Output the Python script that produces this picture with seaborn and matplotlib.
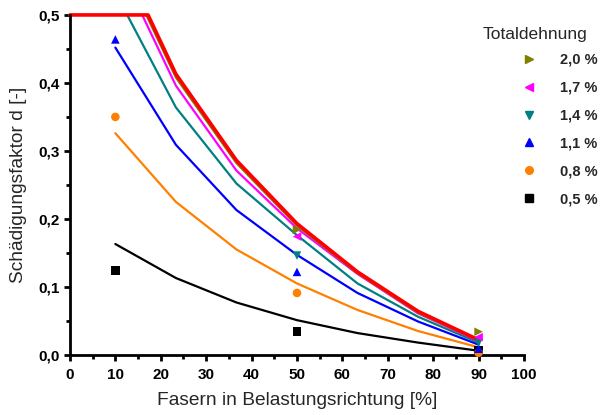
import numpy as np
import pandas as pd
import matplotlib
matplotlib.use("Agg")
import matplotlib.pyplot as plt
from matplotlib.lines import Line2D
from matplotlib.ticker import MultipleLocator, FuncFormatter
import seaborn as sns

# --- data -------------------------------------------------------------
strains = ["0,5 %", "0,8 %", "1,1 %", "1,4 %", "1,7 %", "2,0 %"]
colors = ["#000000", "#ff8000", "#0000ff", "#008080", "#ff00ff", "#808000"]
markers = ["s", "o", "^", "v", "<", ">"]

# model curves (fibre fraction in load direction vs. damage factor)
model_x = [10, 23.33, 36.67, 50, 63.33, 76.67, 90]
model_05 = [0.163, 0.113, 0.077, 0.051, 0.032, 0.018, 0.006]
model_08 = [0.326, 0.225, 0.155, 0.105, 0.066, 0.035, 0.011]
model_11 = [0.452, 0.309, 0.213, 0.147, 0.091, 0.049, 0.015]
model_14 = [0.533, 0.364, 0.252, 0.176, 0.105, 0.056, 0.018]
model_17 = [0.583, 0.396, 0.271, 0.186, 0.119, 0.061, 0.020]
model_20 = [0.596, 0.408, 0.282, 0.190, 0.120, 0.062, 0.021]

# upper envelope, limited to d = 0.5
limit_x = [0, 17.2, 23.33, 36.67, 50, 63.33, 76.67, 90]
limit_d = [0.5, 0.5, 0.413, 0.286, 0.193, 0.122, 0.064, 0.022]

# measurements
meas_x = [10, 50, 90]
meas_05 = [0.124, 0.034, 0.007]
meas_08 = [0.350, 0.091, 0.003]
meas_11 = [0.464, 0.122, 0.009]
meas_14 = [np.nan, 0.146, 0.018]
meas_17 = [np.nan, 0.174, 0.026]
meas_20 = [np.nan, 0.184, 0.034]

model = [model_05, model_08, model_11, model_14, model_17, model_20]
meas = [meas_05, meas_08, meas_11, meas_14, meas_17, meas_20]

lines_df = pd.concat(
    [pd.DataFrame({"x": model_x, "d": m, "strain": s}) for s, m in zip(strains, model)],
    ignore_index=True,
)
pts_df = pd.concat(
    [pd.DataFrame({"x": meas_x, "d": m, "strain": s}) for s, m in zip(strains, meas)],
    ignore_index=True,
).dropna()
limit_df = pd.DataFrame({"x": limit_x, "d": limit_d})

palette = dict(zip(strains, colors))
marker_map = dict(zip(strains, markers))

# --- figure -----------------------------------------------------------
sns.set_theme(style="ticks")
plt.rcParams["font.family"] = ["Liberation Sans", "DejaVu Sans"]

fig = plt.figure(figsize=(6.03, 4.15), dpi=100)
ax = fig.add_axes([0.116, 0.145, 0.753, 0.819])

sns.lineplot(data=lines_df, x="x", y="d", hue="strain", palette=palette,
             linewidth=1.6, legend=False, ax=ax, sort=False)
sns.lineplot(data=limit_df, x="x", y="d", color="#ff0000", linewidth=2.6,
             legend=False, ax=ax, sort=False)
ax.lines[-1].set_clip_on(False)

sns.scatterplot(data=pts_df, x="x", y="d", hue="strain", style="strain",
                palette=palette, markers=marker_map, s=38, linewidth=0,
                legend=False, ax=ax, zorder=5, clip_on=False)

ax.set_xlim(0, 100)
ax.set_ylim(0, 0.5)
ax.xaxis.set_major_locator(MultipleLocator(10))
ax.xaxis.set_minor_locator(MultipleLocator(5))
ax.yaxis.set_major_locator(MultipleLocator(0.1))
ax.yaxis.set_minor_locator(MultipleLocator(0.05))
ax.yaxis.set_major_formatter(FuncFormatter(lambda v, p: f"{v:.1f}".replace(".", ",")))

for side in ("top", "right"):
    ax.spines[side].set_visible(False)
for side in ("left", "bottom"):
    ax.spines[side].set_linewidth(2.0)
    ax.spines[side].set_color("black")

ax.tick_params(which="major", direction="out", length=4.5, width=2.0, colors="black",
               labelsize=11)
ax.tick_params(axis="x", which="major", pad=5)
ax.tick_params(axis="y", which="major", pad=3)
ax.tick_params(which="minor", direction="out", length=3, width=2.0, colors="black")
for lab in ax.get_xticklabels() + ax.get_yticklabels():
    lab.set_fontweight("bold")

ax.set_xlabel("Fasern in Belastungsrichtung [%]", fontsize=13.8, labelpad=7)
ax.set_ylabel("Schädigungsfaktor d [-]", fontsize=13.8, labelpad=8)

# legend: marker-only entries, largest strain first
handles = [Line2D([], [], linestyle="none", marker=m, color=c, markersize=5.5)
           for m, c in zip(markers, colors)][::-1]
leg = ax.legend(handles, strains[::-1], loc="upper left",
                bbox_to_anchor=(522 / 603, 1 - 53 / 415), bbox_transform=fig.transFigure,
                frameon=False, borderpad=0, borderaxespad=0, handlelength=1.0,
                handletextpad=1.6, labelspacing=0.95,
                prop={"weight": "bold", "size": 10.5})
fig.text(535 / 603, 1 - 35 / 415, "Totaldehnung", ha="center", va="center", fontsize=12.5)

fig.savefig("out.png", dpi=100)
